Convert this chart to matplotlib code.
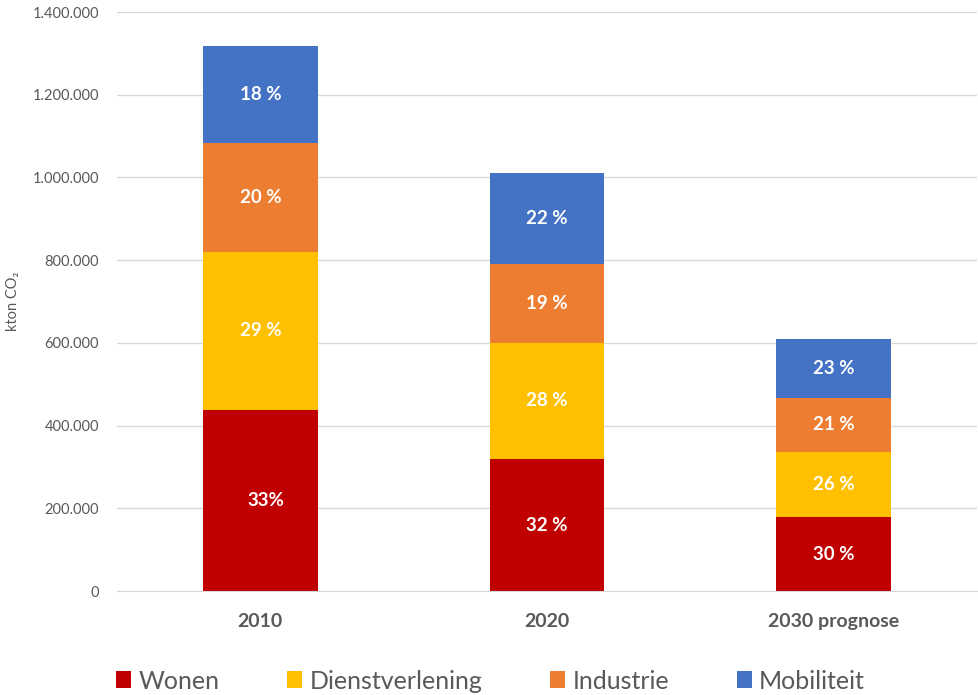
import matplotlib.pyplot as plt
from matplotlib.ticker import FuncFormatter

plt.rcParams['font.family'] = ['Lato', 'DejaVu Sans']

# Data (kton CO2)
years = ['2010', '2020', '2030 prognose']
sectors = ['Wonen', 'Dienstverlening', 'Industrie', 'Mobiliteit']
wonen = [438000, 319000, 179000]
dienstverlening = [382000, 281000, 157000]
industrie = [264000, 191000, 131000]
mobiliteit = [235000, 220000, 142000]
labels = [
    ['33%', '32 %', '30 %'],
    ['29 %', '28 %', '26 %'],
    ['20 %', '19 %', '21 %'],
    ['18 %', '22 %', '23 %'],
]
colors = ['#C00000', '#FFC000', '#ED7D31', '#4472C4']

series = [wonen, dienstverlening, industrie, mobiliteit]

fig = plt.figure(figsize=(9.79, 6.95), dpi=100)
ax = fig.add_axes([0.1195, 0.1496, 0.8784, 0.8331])

x = range(len(years))
bottom = [0, 0, 0]
for vals, lab, col, name in zip(series, labels, colors, sectors):
    ax.bar(x, vals, width=0.4, bottom=bottom, color=col, label=name, zorder=2)
    for i, (v, b, t) in enumerate(zip(vals, bottom, lab)):
        dx = 0.02 if t == '33%' else 0
        ax.text(i + dx, b + v / 2, t, ha='center', va='center', color='white',
                fontsize=13.5, fontweight='bold')
    bottom = [b + v for b, v in zip(bottom, vals)]

ax.set_xlim(-0.5, 2.5)
ax.set_ylim(0, 1400000)
ax.set_yticks(range(0, 1400001, 200000))
ax.yaxis.set_major_formatter(FuncFormatter(lambda v, p: f'{int(v):,}'.replace(',', '.')))
ax.grid(axis='y', color='#D9D9D9', linewidth=1, zorder=0)
for s in ax.spines.values():
    s.set_visible(False)
ax.spines['bottom'].set_visible(True)
ax.spines['bottom'].set_color('#D9D9D9')
ax.tick_params(axis='y', length=0, pad=13, labelsize=10.5, labelcolor='#595959')
ax.tick_params(axis='x', length=0, pad=16, labelsize=14, labelcolor='#595959')
ax.set_xticks(list(x))
ax.set_xticklabels(years, fontweight='bold')
ax.set_ylabel('kton CO₂', fontsize=10.5, color='#595959')
ax.yaxis.set_label_coords(-0.113, 0.5)

fig.legend(loc='center left', bbox_to_anchor=(0.1185, 0.02), ncol=4, frameon=False,
           fontsize=18, labelcolor='#595959', handlelength=0.6, handleheight=0.65,
           handletextpad=0.3, columnspacing=2.7, borderpad=0, borderaxespad=0)

fig.savefig('out.png', dpi=100)
